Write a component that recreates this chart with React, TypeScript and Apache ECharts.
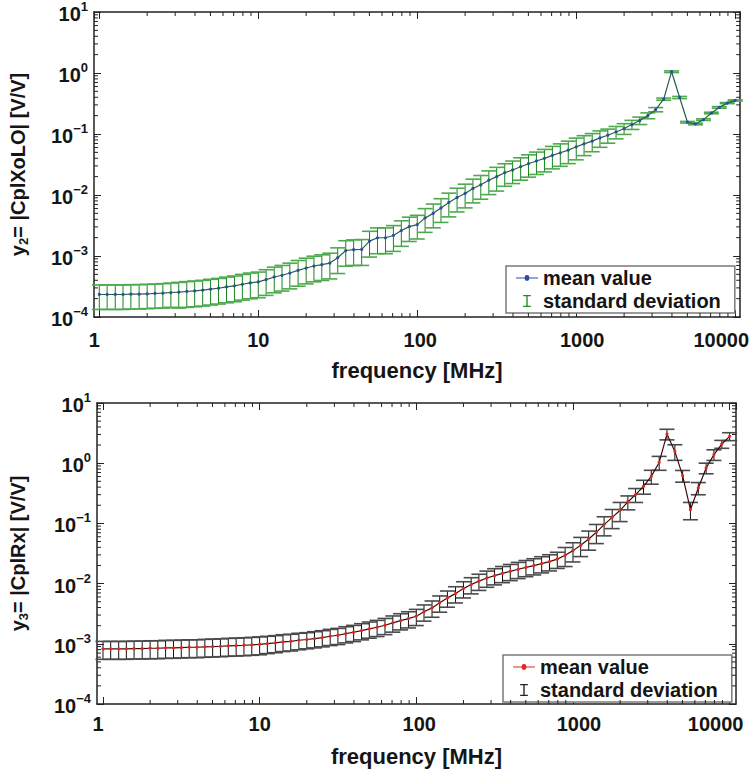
import React, { useEffect, useRef } from 'react';
import * as echarts from 'echarts';

// ---------------- data ----------------
const frequencyMHz = [
  1, 1.12, 1.26, 1.41, 1.58, 1.78, 2, 2.24, 2.51, 2.82, 3.16, 3.55, 3.98, 4.47, 5.01, 5.62, 6.31, 7.08, 7.94, 8.91,
  10, 11.2, 12.6, 14.1, 15.8, 17.8, 20, 22.4, 25.1, 28.2, 31.6, 35.5, 39.8, 44.7, 50.1, 56.2, 63.1, 70.8, 79.4, 89.1,
  100, 112, 126, 141, 158, 178, 200, 224, 251, 282, 316, 355, 398, 447, 501, 562, 631, 708, 794, 891,
  1000, 1120, 1260, 1410, 1580, 1780, 2000, 2240, 2510, 2820, 3160, 3550, 3980, 4470, 5010, 5620, 6310, 7080, 7940, 8910,
  10000,
];

const y2Mean = [
  2.34e-4, 2.34e-4, 2.34e-4, 2.34e-4, 2.37e-4, 2.37e-4, 2.4e-4, 2.43e-4, 2.46e-4, 2.52e-4,
  2.55e-4, 2.62e-4, 2.68e-4, 2.75e-4, 2.86e-4, 2.96e-4, 3.11e-4, 3.24e-4, 3.44e-4, 3.62e-4,
  3.76e-4, 4.11e-4, 4.53e-4, 4.83e-4, 5.26e-4, 5.82e-4, 6.35e-4, 6.85e-4, 7.21e-4, 7.66e-4,
  9.38e-4, 1.23e-3, 1.27e-3, 1.28e-3, 1.75e-3, 1.99e-3, 1.99e-3, 2.17e-3, 2.61e-3, 3.03e-3,
  3.27e-3, 4.21e-3, 5.0e-3, 6.12e-3, 7.55e-3, 9.1e-3, 1.06e-2, 1.28e-2, 1.47e-2, 1.75e-2,
  2.0e-2, 2.32e-2, 2.57e-2, 2.91e-2, 3.26e-2, 3.61e-2, 3.99e-2, 4.47e-2, 4.92e-2, 5.45e-2,
  6.17e-2, 6.9e-2, 7.64e-2, 8.65e-2, 9.55e-2, 0.108, 0.123, 0.143, 0.166, 0.2,
  0.251, 0.373, 1.05, 0.397, 0.156, 0.146, 0.172, 0.221, 0.273, 0.321,
  0.355,
];

const y2Std = [
  1.01e-4, 1.01e-4, 1.01e-4, 1.01e-4, 1.02e-4, 1.02e-4, 1.03e-4, 1.04e-4, 1.06e-4, 1.08e-4,
  1.15e-4, 1.18e-4, 1.21e-4, 1.24e-4, 1.29e-4, 1.33e-4, 1.4e-4, 1.46e-4, 1.55e-4, 1.63e-4,
  1.69e-4, 1.85e-4, 2.04e-4, 2.17e-4, 2.37e-4, 2.62e-4, 2.86e-4, 3.08e-4, 3.24e-4, 3.45e-4,
  4.22e-4, 5.5e-4, 5.7e-4, 5.8e-4, 7.9e-4, 9.0e-4, 9.0e-4, 9.8e-4, 1.17e-3, 1.3e-3,
  1.37e-3, 1.77e-3, 2.1e-3, 2.57e-3, 3.17e-3, 3.82e-3, 4.45e-3, 5.38e-3, 6.17e-3, 7.35e-3,
  8.4e-3, 9.3e-3, 1.03e-2, 1.16e-2, 1.3e-2, 1.44e-2, 1.6e-2, 1.79e-2, 1.97e-2, 2.18e-2,
  2.4e-2, 2.48e-2, 2.52e-2, 2.6e-2, 2.48e-2, 2.48e-2, 2.46e-2, 2.43e-2, 2.32e-2, 2.2e-2,
  2.0e-2, 1.5e-2, 3.2e-2, 1.6e-2, 4.7e-3, 4.4e-3, 5.2e-3, 6.6e-3, 8.2e-3, 6.4e-3,
  7.1e-3,
];

const y3Mean = [
  8.24e-4, 8.24e-4, 8.24e-4, 8.24e-4, 8.34e-4, 8.34e-4, 8.44e-4, 8.44e-4, 8.57e-4, 8.57e-4,
  8.67e-4, 8.77e-4, 8.77e-4, 8.91e-4, 9.0e-4, 9.1e-4, 9.25e-4, 9.35e-4, 9.46e-4, 9.61e-4,
  9.8e-4, 1.009e-3, 1.038e-3, 1.079e-3, 1.1e-3, 1.146e-3, 1.178e-3, 1.222e-3, 1.27e-3, 1.336e-3,
  1.387e-3, 1.479e-3, 1.556e-3, 1.66e-3, 1.77e-3, 1.884e-3, 2.03e-3, 2.23e-3, 2.43e-3, 2.62e-3,
  2.87e-3, 3.4e-3, 3.95e-3, 4.79e-3, 5.79e-3, 6.82e-3, 8.26e-3, 9.64e-3, 1.1e-2, 1.24e-2,
  1.36e-2, 1.48e-2, 1.6e-2, 1.73e-2, 1.86e-2, 1.99e-2, 2.15e-2, 2.32e-2, 2.55e-2, 2.95e-2,
  3.53e-2, 4.33e-2, 5.52e-2, 7.11e-2, 9.55e-2, 0.126, 0.165, 0.227, 0.301, 0.413,
  0.605, 1.03, 3.05, 1.57, 0.621, 0.169, 0.388, 0.834, 1.39, 2.08,
  2.79,
];

const y3Std = [
  2.72e-4, 2.72e-4, 2.72e-4, 2.72e-4, 2.75e-4, 2.75e-4, 2.79e-4, 2.79e-4, 2.83e-4, 2.83e-4,
  2.86e-4, 2.89e-4, 2.89e-4, 2.94e-4, 2.97e-4, 3.0e-4, 3.05e-4, 3.09e-4, 3.12e-4, 3.17e-4,
  3.23e-4, 3.22e-4, 3.28e-4, 3.36e-4, 3.41e-4, 3.5e-4, 3.53e-4, 3.67e-4, 3.81e-4, 4.01e-4,
  4.16e-4, 4.44e-4, 4.67e-4, 4.98e-4, 5.31e-4, 5.65e-4, 6.09e-4, 6.69e-4, 7.29e-4, 7.86e-4,
  8.61e-4, 1.02e-3, 1.19e-3, 1.44e-3, 1.74e-3, 2.05e-3, 2.48e-3, 2.89e-3, 3.3e-3, 3.72e-3,
  4.08e-3, 4.44e-3, 4.8e-3, 5.19e-3, 5.58e-3, 5.97e-3, 6.45e-3, 6.96e-3, 7.65e-3, 1.03e-2,
  1.24e-2, 1.52e-2, 1.93e-2, 2.49e-2, 3.34e-2, 4.41e-2, 5.78e-2, 5.9e-2, 7.83e-2, 0.107,
  0.157, 0.268, 0.61, 0.455, 0.137, 0.054, 0.089, 0.167, 0.278, 0.312,
  0.419,
];

const xTickLabels = ['1', '10', '100', '1000', '10000'];
const yTickExponents = [-4, -3, -2, -1, 0, 1];

// ---------------- styling ----------------
const FONT = "'Liberation Sans', Arial, Helvetica, sans-serif";
const INK = '#151515';
const FRAME = '#222';
const IBEAM = 'path://M0,0H9V1.6H5.3V12.4H9V14H0V12.4H3.7V1.6H0Z';
const LINE_DOT = 'path://M0,4.4H8.6A2.4,2.4 0 1 1 13.4,4.4H22V5.6H13.4A2.4,2.4 0 1 1 8.6,5.6H0Z';

const xLabelRich = {
  l: { fontSize: 20, fontWeight: 'bold', fontFamily: FONT, color: INK, padding: [0, 10, 0, 0] },
  c: { fontSize: 20, fontWeight: 'bold', fontFamily: FONT, color: INK },
  h: { fontSize: 20, fontWeight: 'bold', fontFamily: FONT, color: INK, padding: [0, 0, 0, 6] },
  m: { fontSize: 20, fontWeight: 'bold', fontFamily: FONT, color: INK, padding: [0, 0, 0, 12] },
  r: { fontSize: 20, fontWeight: 'bold', fontFamily: FONT, color: INK, padding: [0, 28, 0, 0] },
};
const xLabelKeys = ['l', 'c', 'h', 'm', 'r'];

function xFormatter(v: number) {
  const l = Math.log10(v);
  const e = Math.round(l);
  if (Math.abs(l - e) > 1e-6 || e < 0 || e >= xTickLabels.length) return '';
  return `{${xLabelKeys[e]}|${xTickLabels[e]}}`;
}

function yFormatter(v: number) {
  const l = Math.log10(v);
  const e = Math.round(l);
  if (Math.abs(l - e) > 1e-6 || yTickExponents.indexOf(e) < 0) return '';
  const s = e < 0 ? '\u2212' + -e : String(e);
  return `{b|10}{s|${s}}`;
}

const yLabelRich = {
  b: { fontSize: 20, fontWeight: 'bold', fontFamily: FONT, color: INK, lineHeight: 24, verticalAlign: 'bottom' },
  s: { fontSize: 13, fontWeight: 'bold', fontFamily: FONT, color: INK, lineHeight: 13, verticalAlign: 'top' },
};

const nameRich = {
  t: { fontSize: 20, fontWeight: 'bold', fontFamily: FONT, color: INK, lineHeight: 24 },
  u: { fontSize: 13, fontWeight: 'bold', fontFamily: FONT, color: INK, lineHeight: 11, verticalAlign: 'bottom' },
};

const axisLine = { show: true, onZero: false, lineStyle: { color: FRAME, width: 1.5 } };
const axisTick = { show: true, inside: true, length: 7, lineStyle: { color: FRAME, width: 1 } };

function makeXAxes(gridIndex: number, min: number, max: number, labelMargin: number, nameGap: number) {
  return [
    {
      type: 'log', logBase: 10, gridIndex, min, max, position: 'bottom',
      axisLine, axisTick, splitLine: { show: false }, minorTick: { show: false },
      axisLabel: { margin: labelMargin, fontSize: 20, fontWeight: 'bold', fontFamily: FONT, color: INK, formatter: xFormatter, rich: xLabelRich, showMinLabel: false, showMaxLabel: false },
      name: 'frequency [MHz]', nameLocation: 'middle', nameGap,
      nameTextStyle: { fontSize: 22, fontWeight: 'bold', fontFamily: FONT, color: INK },
    },
    {
      type: 'log', logBase: 10, gridIndex, min, max, position: 'top',
      axisLine, axisTick, splitLine: { show: false }, axisLabel: { show: false },
    },
  ];
}

function makeYAxes(gridIndex: number, nameRichText: string, nameGap: number) {
  return [
    {
      type: 'log', logBase: 10, gridIndex, min: 1e-4, max: 10, position: 'left',
      axisLine, axisTick, splitLine: { show: false },
      axisLabel: { margin: 6, formatter: yFormatter, rich: yLabelRich, fontSize: 20, fontWeight: 'bold', fontFamily: FONT, color: INK },
      name: nameRichText, nameLocation: 'middle', nameGap, nameRotate: 90,
      nameTextStyle: { rich: nameRich, fontSize: 20, fontWeight: 'bold', fontFamily: FONT, color: INK },
    },
    {
      type: 'log', logBase: 10, gridIndex, min: 1e-4, max: 10, position: 'right',
      axisLine, axisTick, splitLine: { show: false }, axisLabel: { show: false },
    },
  ];
}

function errorBarSeries(axisIndex: number, mean: number[], std: number[], stem: string, cap: string) {
  return {
    type: 'custom', name: 'standard deviation', xAxisIndex: axisIndex * 2, yAxisIndex: axisIndex * 2,
    itemStyle: { color: stem }, z: 2, silent: true,
    encode: { x: 0, y: [1, 2] },
    data: frequencyMHz.map((f, i) => [f, mean[i] - std[i], mean[i] + std[i]]),
    renderItem: (params: any, api: any) => {
      const x = api.value(0);
      const lo = api.coord([x, api.value(1)]);
      const hi = api.coord([x, api.value(2)]);
      const hw = 7.5;
      return {
        type: 'group',
        children: [
          { type: 'line', shape: { x1: lo[0], y1: lo[1], x2: hi[0], y2: hi[1] }, style: { stroke: stem, lineWidth: 1 } },
          { type: 'line', shape: { x1: lo[0] - hw, y1: lo[1], x2: lo[0] + hw, y2: lo[1] }, style: { stroke: cap, lineWidth: 1.6 } },
          { type: 'line', shape: { x1: hi[0] - hw, y1: hi[1], x2: hi[0] + hw, y2: hi[1] }, style: { stroke: cap, lineWidth: 1.6 } },
        ],
      };
    },
  };
}

function meanSeries(axisIndex: number, mean: number[], line: string, dot: string) {
  return {
    type: 'line', name: 'mean value', xAxisIndex: axisIndex * 2, yAxisIndex: axisIndex * 2,
    data: frequencyMHz.map((f, i) => [f, mean[i]]),
    symbol: 'circle', symbolSize: 3.2, showSymbol: true, showAllSymbol: true,
    lineStyle: { color: line, width: 1.2 }, itemStyle: { color: dot }, z: 3, silent: true,
  };
}

function minorTickSeries(axisIndex: number, xMin: number, xMax: number) {
  const minorX: number[] = [];
  for (let e = 0; e <= 4; e++) for (let m = 2; m <= 9; m++) { const v = m * Math.pow(10, e); if (v < xMax && v > xMin) minorX.push(v); }
  const minorY: number[] = [];
  for (let e = -4; e <= 0; e++) for (let m = 2; m <= 9; m++) minorY.push(m * Math.pow(10, e));
  const yMin = 1e-4, yMax = 10;
  return {
    type: 'custom', xAxisIndex: axisIndex * 2, yAxisIndex: axisIndex * 2, silent: true, z: 4,
    data: [[1, 1e-3]],
    renderItem: (params: any, api: any) => {
      const style = { stroke: FRAME, lineWidth: 1 };
      const ch: any[] = [];
      const L = 4;
      minorX.forEach((v) => {
        const b = api.coord([v, yMin]);
        const t = api.coord([v, yMax]);
        ch.push({ type: 'line', shape: { x1: b[0], y1: b[1], x2: b[0], y2: b[1] - L }, style });
        ch.push({ type: 'line', shape: { x1: t[0], y1: t[1], x2: t[0], y2: t[1] + L }, style });
      });
      minorY.forEach((v) => {
        const l = api.coord([xMin, v]);
        const r = api.coord([xMax, v]);
        ch.push({ type: 'line', shape: { x1: l[0], y1: l[1], x2: l[0] + L, y2: l[1] }, style });
        ch.push({ type: 'line', shape: { x1: r[0], y1: r[1], x2: r[0] - L, y2: r[1] }, style });
      });
      return { type: 'group', children: ch };
    },
  };
}

function makeLegend(left: number, top: number, lineColor: string, barColor: string) {
  return {
    orient: 'vertical', left, top, padding: [2, 14, 2, 10], itemGap: 3, itemWidth: 22, itemHeight: 12,
    borderColor: '#7a7a7a', borderWidth: 1.5, backgroundColor: '#fff', selectedMode: false,
    textStyle: { fontSize: 20, fontWeight: 'bold', fontFamily: FONT, color: INK, lineHeight: 18 },
    data: [
      { name: 'mean value', icon: LINE_DOT, itemStyle: { color: lineColor } },
      { name: 'standard deviation', icon: IBEAM, itemStyle: { color: barColor } },
    ],
  };
}

const TOP_X = [0.926, 10740];
const BOT_X = [0.916, 10980];

export default function App() {
  const ref = useRef<HTMLDivElement>(null);
  useEffect(() => {
    if (!ref.current) return;
    const chart = echarts.init(ref.current, undefined, { renderer: 'svg' });
    const option: any = {
      animation: false,
      backgroundColor: '#fff',
      grid: [
        { left: 91, top: 10, width: 650, height: 307 },
        { left: 94, top: 403, width: 642, height: 301 },
      ],
      xAxis: [
        ...makeXAxes(0, TOP_X[0], TOP_X[1], 13, 42),
        ...makeXAxes(1, BOT_X[0], BOT_X[1], 10, 41),
      ],
      yAxis: [
        ...makeYAxes(0, '{t|y}{u|2}{t|= |CplXoLO| [V/V]}', 64),
        ...makeYAxes(1, '{t|y}{u|3}{t|= |CplRx| [V/V]}', 67),
      ],
      legend: [
        makeLegend(506, 266, '#2f4f9a', '#1f8f1f'),
        makeLegend(503, 655, '#e8241c', '#222'),
      ],
      series: [
        errorBarSeries(0, y2Mean, y2Std, '#16871a', '#4caa4c'),
        meanSeries(0, y2Mean, '#22604a', '#2f4f9a'),
        minorTickSeries(0, TOP_X[0], TOP_X[1]),
        errorBarSeries(1, y3Mean, y3Std, '#111', '#4a4a4a'),
        meanSeries(1, y3Mean, '#3a0c0c', '#e8241c'),
        minorTickSeries(1, BOT_X[0], BOT_X[1]),
      ],
    };
    chart.setOption(option);
    return () => chart.dispose();
  }, []);
  return <div ref={ref} style={{ position: 'absolute', left: 0, top: 0, width: 752, height: 771 }} />;
}
